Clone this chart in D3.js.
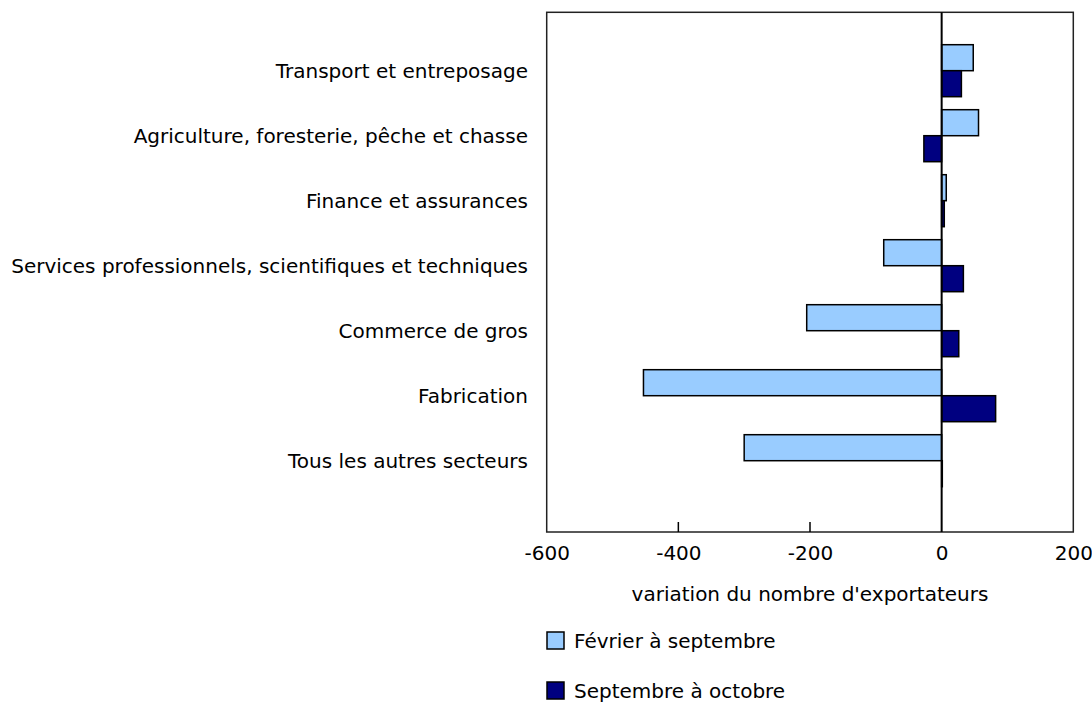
<!DOCTYPE html>
<html>
<head>
<meta charset="utf-8">
<script src="https://cdn.jsdelivr.net/npm/d3@7"></script>
<style>
  body { margin: 0; background: #fff; }
  text { font-family: "DejaVu Sans", Verdana, sans-serif; fill: #000; }
</style>
</head>
<body>
<div id="chart"></div>
<script>
// sectors, top to bottom
const sectors = [
  'Transport et entreposage',
  'Agriculture, foresterie, pêche et chasse',
  'Finance et assurances',
  'Services professionnels, scientifiques et techniques',
  'Commerce de gros',
  'Fabrication',
  'Tous les autres secteurs'
];
const seriesNames = ['Février à septembre', 'Septembre à octobre'];
const febToSep = [48, 56, 7, -88, -205, -453, -300];
const sepToOct = [30, -27, 4, 33, 26, 82, 1];
const xTicks = [-600, -400, -200, 0, 200];
const xTitle = "variation du nombre d'exportateurs";

const colors = ['#99ccff', '#000080'];
const fontSize = 20;

const width = 1092, height = 702;
const plot = { left: 546.7, right: 1073.3, top: 12.3, bottom: 532 };

const svg = d3.select('#chart').append('svg')
  .attr('width', width)
  .attr('height', height);

const x = d3.scaleLinear().domain([-600, 200]).range([plot.left, plot.right]);
const y = d3.scaleBand().domain(sectors).range([38.2, 493.2])
  .paddingInner(0.2).paddingOuter(0.1);
const ySub = d3.scaleBand().domain([0, 1]).range([0, y.bandwidth()]);

const rows = sectors.map((s, i) => ({ sector: s, values: [febToSep[i], sepToOct[i]] }));

// frame
svg.append('rect')
  .attr('x', plot.left).attr('y', plot.top)
  .attr('width', plot.right - plot.left).attr('height', plot.bottom - plot.top)
  .attr('fill', 'none').attr('stroke', '#222').attr('stroke-width', 1.5);

// bars
const groups = svg.selectAll('.grp').data(rows).enter().append('g')
  .attr('class', 'grp')
  .attr('transform', d => `translate(0,${y(d.sector)})`);

groups.selectAll('rect').data(d => d.values).enter().append('rect')
  .attr('x', d => x(Math.min(0, d)))
  .attr('y', (d, i) => ySub(i))
  .attr('width', d => Math.abs(x(d) - x(0)))
  .attr('height', ySub.bandwidth())
  .attr('fill', (d, i) => colors[i])
  .attr('stroke', '#000').attr('stroke-width', 1.5);

// zero line
svg.append('line')
  .attr('x1', x(0)).attr('x2', x(0))
  .attr('y1', plot.top).attr('y2', plot.bottom)
  .attr('stroke', '#000').attr('stroke-width', 2);

// x axis: inner ticks + labels
const xAxis = svg.append('g').attr('transform', `translate(0,${plot.bottom})`)
  .call(d3.axisBottom(x).tickValues(xTicks).tickSize(0).tickPadding(14)
    .tickFormat(d => String(d)));
xAxis.select('.domain').remove();
xAxis.selectAll('text').attr('font-size', fontSize).style('font-family', '"DejaVu Sans", Verdana, sans-serif');

svg.selectAll('.itick').data(xTicks.filter(t => t > -600 && t < 0)).enter().append('line')
  .attr('x1', d => x(d)).attr('x2', d => x(d))
  .attr('y1', plot.bottom).attr('y2', plot.bottom - 10)
  .attr('stroke', '#000').attr('stroke-width', 1.5);

// y labels
svg.selectAll('.ylab').data(sectors).enter().append('text')
  .attr('x', 528)
  .attr('y', d => y(d) + y.bandwidth() / 2)
  .attr('dy', '0.35em')
  .attr('text-anchor', 'end')
  .attr('font-size', fontSize)
  .text(d => d);

// x title
svg.append('text')
  .attr('x', (plot.left + plot.right) / 2)
  .attr('y', 594)
  .attr('dy', '0.35em')
  .attr('text-anchor', 'middle')
  .attr('font-size', fontSize)
  .text(xTitle);

// legend
const legend = svg.selectAll('.leg').data(seriesNames).enter().append('g')
  .attr('transform', (d, i) => `translate(547,${632 + i * 50})`);
legend.append('rect')
  .attr('width', 17).attr('height', 17)
  .attr('fill', (d, i) => colors[i])
  .attr('stroke', '#000').attr('stroke-width', 1.5);
legend.append('text')
  .attr('x', 27).attr('y', 9)
  .attr('dy', '0.35em')
  .attr('font-size', fontSize)
  .text(d => d);
</script>
</body>
</html>
